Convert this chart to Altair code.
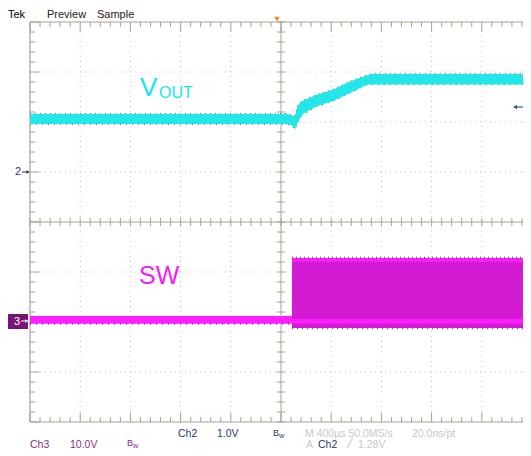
import altair as alt
import numpy as np
import pandas as pd

# ---------------- values ----------------
# Time base: 400 us/div, times in ms relative to the trigger point (screen centre)
TIME_PER_DIV_MS = 0.4

# Ch2 = VOUT, 1.0 V/div, ground marker "2" one division above centre
CH2_V_PER_DIV = 1.0
CH2_GND_DIV = 1.0
vout_t_ms = [-2.00, 0.05, 0.09, 0.11, 0.135, 0.175, 0.28, 0.415, 0.55, 0.68, 0.72, 2.00]
vout_hi_v = [1.16, 1.16, 1.13, 1.12, 1.34, 1.43, 1.54, 1.65, 1.81, 1.93, 1.96, 1.96]
vout_lo_v = [0.96, 0.96, 0.93, 0.85, 1.00, 1.16, 1.31, 1.42, 1.58, 1.74, 1.75, 1.75]

# Ch3 = SW, 10.0 V/div, ground marker "3" about two divisions below centre
CH3_V_PER_DIV = 10.0
CH3_GND_DIV = -1.98
sw_t_ms = [-2.00, 0.087, 0.088, 2.00]
sw_hi_v = [1.0, 1.0, 12.6, 12.6]
sw_lo_v = [-0.5, -0.5, -1.4, -1.4]
sw_top_t_ms = [0.088, 2.00]
sw_top_hi_v = [12.6, 12.6]
sw_top_lo_v = [11.8, 11.8]
sw_base_t_ms = [-2.00, 0.087, 0.088, 2.00]
sw_base_hi_v = [1.0, 1.0, 0.4, 0.4]
sw_base_lo_v = [-0.5, -0.5, -0.5, -0.5]

# Screen graticule: 10 x 8 divisions, 5 minor ticks per division
N_XDIV = 10
N_YDIV = 8

# ---------------- scales (in divisions) ----------------
W, H = 515, 440
PX_X, PX_Y = 50.2, 50.0
XMIN = -N_XDIV / 2 - 22 / PX_X
YMAX = N_YDIV / 2 + 14 / PX_Y
XDOM = [XMIN, XMIN + W / PX_X]
YDOM = [YMAX - H / PX_Y, YMAX]
xs = alt.Scale(domain=XDOM, nice=False, zero=False)
ys = alt.Scale(domain=YDOM, nice=False, zero=False)

GRID = "#a6a294"
DOT = "#c4c4c4"


def ch2(v):
    return [x / CH2_V_PER_DIV + CH2_GND_DIV for x in v]


def ch3(v):
    return [x / CH3_V_PER_DIV + CH3_GND_DIV for x in v]


def tdiv(t):
    return [x / TIME_PER_DIV_MS for x in t]


def rules(df, color, width=1, dash=None, opacity=1):
    kw = dict(color=color, strokeWidth=width, opacity=opacity)
    if dash is not None:
        kw["strokeDash"] = dash
    return alt.Chart(df).mark_rule(**kw).encode(
        x=alt.X("x:Q", scale=xs, axis=None),
        x2="x2:Q",
        y=alt.Y("y:Q", scale=ys, axis=None),
        y2="y2:Q",
    )


hx = N_XDIV / 2
hy = N_YDIV / 2
tx = 0.1
border = pd.DataFrame({
    "x": [-hx, hx, -hx, -hx], "x2": [-hx, hx, hx, hx],
    "y": [-hy, -hy, hy, -hy], "y2": [hy, hy, hy, -hy]})
cross = pd.DataFrame({"x": [0, -hx], "x2": [0, hx], "y": [-hy, 0], "y2": [hy, 0]})

minor_x = np.round(np.arange(-hx, hx + 0.001, 0.2), 3)
minor_y = np.round(np.arange(-hy, hy + 0.001, 0.2), 3)
rows = []
for x in minor_x:
    major = abs(x - round(x)) < 1e-6
    L = 0.19 if major else tx
    rows.append((x, x, hy, hy - L))
    rows.append((x, x, -hy, -hy + L))
    rows.append((x, x, -0.08, 0.08))
for y in minor_y:
    major = abs(y - round(y)) < 1e-6
    L = 0.19 if major else tx
    rows.append((-hx, -hx + L, y, y))
    rows.append((hx, hx - L, y, y))
    rows.append((-0.08, 0.08, y, y))
ticks = pd.DataFrame(rows, columns=["x", "x2", "y", "y2"])

vdots = pd.DataFrame({"x": [v for v in range(-4, 5) if v != 0]})
vdots["x2"] = vdots["x"]
vdots["y"] = -hy
vdots["y2"] = hy
hdots = pd.DataFrame({"y": [v for v in range(-3, 4) if v != 0]})
hdots["y2"] = hdots["y"]
hdots["x"] = -hx
hdots["x2"] = hx

layers = [
    rules(vdots, DOT, 1, [1, 4]),
    rules(hdots, DOT, 1, [1, 4]),
    rules(border, GRID, 1.2),
    rules(cross, GRID, 1),
    rules(ticks, GRID, 1),
]


def band(t, hi, lo, color, conv, opacity=1):
    df = pd.DataFrame({"t": tdiv(t), "hi": conv(hi), "lo": conv(lo)})
    return alt.Chart(df).mark_area(color=color, opacity=opacity, clip=True).encode(
        x=alt.X("t:Q", scale=xs, axis=None),
        y=alt.Y("hi:Q", scale=ys, axis=None),
        y2="lo:Q",
    )


def speckle(t, v, conv, color="#202020", dash=(1, 3), width=1.3):
    df = pd.DataFrame({"t": tdiv(t), "v": conv(v)})
    return alt.Chart(df).mark_line(color=color, strokeWidth=width, strokeDash=list(dash),
                                   opacity=0.75, clip=True).encode(
        x=alt.X("t:Q", scale=xs, axis=None),
        y=alt.Y("v:Q", scale=ys, axis=None),
    )


CYAN = "#22e6e8"
MAG_BODY = "#d21bd2"
MAG_BRIGHT = "#ff1eff"

layers += [
    speckle(vout_t_ms, vout_hi_v, ch2, dash=(1, 4)),
    speckle(vout_t_ms, vout_lo_v, ch2, dash=(1, 5)),
    band(vout_t_ms, vout_hi_v, vout_lo_v, CYAN, ch2),
    band(sw_t_ms, sw_hi_v, sw_lo_v, MAG_BODY, ch3),
    band(sw_top_t_ms, sw_top_hi_v, sw_top_lo_v, MAG_BRIGHT, ch3),
    band(sw_base_t_ms, sw_base_hi_v, sw_base_lo_v, MAG_BRIGHT, ch3),
    speckle(sw_top_t_ms, [12.7, 12.7], ch3, dash=(1, 3)),
    speckle([0.088, 2.0], [-1.5, -1.5], ch3, color="#5a105a", dash=(1, 4)),
    speckle([-2.0, 0.088], [-0.6, -0.6], ch3, color="#5a105a", dash=(1, 5)),
]

one = pd.DataFrame({"a": [0]})
FONT = "Liberation Sans"


def label(text, x, y, color, size=10, align="left", baseline="middle", weight="normal"):
    # x, y in page pixels of the reference; the chart starts 8 px in
    return alt.Chart(one).mark_text(
        text=text, color=color, fontSize=size, font=FONT, align=align,
        baseline=baseline, fontWeight=weight,
    ).encode(x=alt.value(x - 8), y=alt.value(y - 8))


NAVY = "#1f3b6a"
PURP = "#8a2a8a"
LG = "#c8c8c8"
R0 = 17.5
R1 = 436.5
R2 = 447.5

layers += [
    label("Tek", 8, R0, "#000000", 11, baseline="alphabetic"),
    label("Preview", 47, R0, "#222222", 11, baseline="alphabetic"),
    label("Sample", 97, R0, "#222222", 11, baseline="alphabetic"),
    label("Ch2", 178, R1, NAVY, 10.5, baseline="alphabetic"),
    label("1.0V", 217, R1, NAVY, 10.5, baseline="alphabetic"),
    label("B", 273, R1 - 1, NAVY, 9, baseline="alphabetic"),
    label("w", 279, R1 + 1.5, NAVY, 7.5, baseline="alphabetic"),
    label("M 400µs 50.0MS/s", 305, R1, LG, 10.5, baseline="alphabetic"),
    label("20.0ns/pt", 412, R1, LG, 10.5, baseline="alphabetic"),
    label("Ch3", 30, R2, PURP, 10.5, baseline="alphabetic"),
    label("10.0V", 70, R2, PURP, 10.5, baseline="alphabetic"),
    label("B", 127, R2 - 1.5, PURP, 9, baseline="alphabetic"),
    label("w", 133, R2, PURP, 7.5, baseline="alphabetic"),
    label("A", 306, R2, LG, 10.5, baseline="alphabetic"),
    label("Ch2", 318, R2, NAVY, 10.5, baseline="alphabetic"),
    label("╱", 346, R2, LG, 10.5, baseline="alphabetic"),
    label("1.28V", 358, R2, LG, 10.5, baseline="alphabetic"),
    label("V", 140, 96, "#12e6ee", 26, baseline="alphabetic"),
    label("OUT", 159, 98, "#12e6ee", 16, baseline="alphabetic"),
    label("SW", 139, 284, "#f41ef4", 25, baseline="alphabetic"),
    label("2", 15, 172, NAVY, 11),
]


def vpx(x, y):
    return dict(x=alt.value(x - 8), y=alt.value(y - 8))


layers += [
    alt.Chart(one).mark_rect(color="#781478").encode(
        x=alt.value(0), x2=alt.value(20), y=alt.value(306), y2=alt.value(321)),
    label("3", 14, 322, "#ffffff", 11),
    alt.Chart(one).mark_rule(color="#ffffff", strokeWidth=1).encode(
        x=alt.value(13), x2=alt.value(19), y=alt.value(313)),
    alt.Chart(one).mark_point(shape="triangle-right", filled=True, color="#ffffff", size=14, opacity=1).encode(
        **vpx(27, 321)),
    alt.Chart(one).mark_rule(color=NAVY, strokeWidth=1).encode(
        x=alt.value(14), x2=alt.value(21), y=alt.value(164)),
    alt.Chart(one).mark_point(shape="triangle-right", filled=True, color=NAVY, size=14, opacity=1).encode(
        **vpx(28, 172)),
    alt.Chart(one).mark_rule(color="#2a5aa0", strokeWidth=1.2).encode(
        x=alt.value(507), x2=alt.value(515), y=alt.value(99)),
    alt.Chart(one).mark_point(shape="triangle-left", filled=True, color="#2a5aa0", size=22, opacity=1).encode(
        **vpx(515, 107)),
    alt.Chart(one).mark_point(shape="triangle-down", filled=True, color="#ff7a10", size=30, opacity=1).encode(
        **vpx(277, 19)),
]

chart = alt.layer(*layers).properties(
    width=W, height=H, padding=0, autosize=alt.AutoSizeParams(type="none"),
    background="#ffffff",
).configure_view(stroke=None)

chart.save("out.html", embed_options={"renderer": "svg", "actions": False})
